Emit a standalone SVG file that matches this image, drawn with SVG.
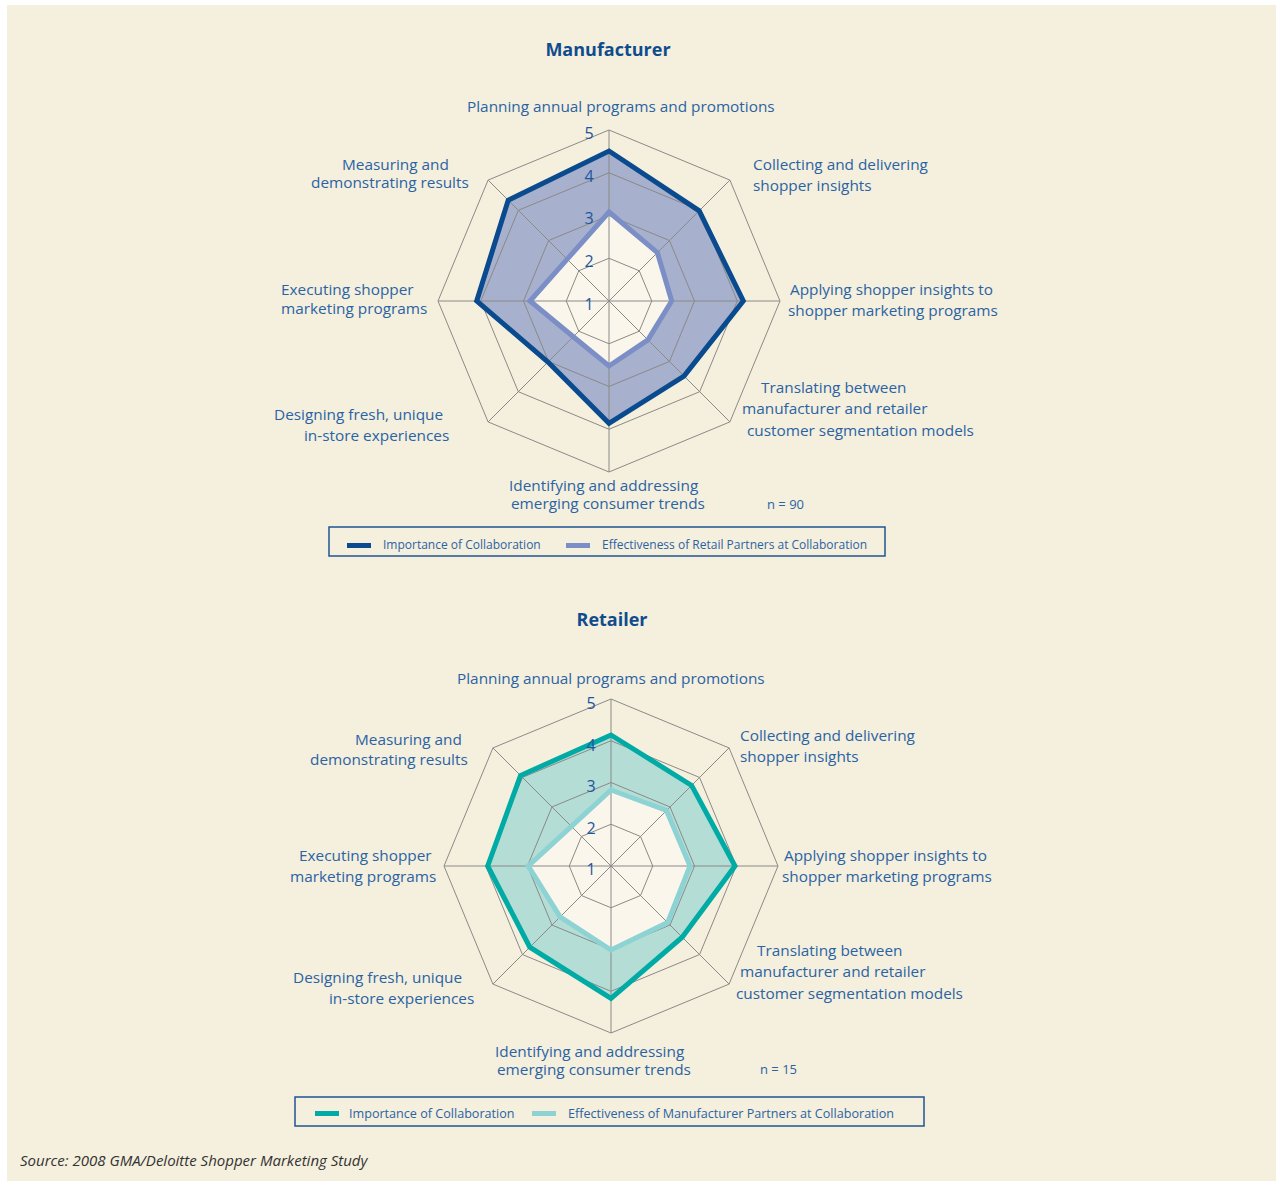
<svg xmlns="http://www.w3.org/2000/svg" width="1276" height="1181" viewBox="0 0 1276 1181">
<style>
.lbl{font-family:"Open Sans","Noto Sans","Liberation Sans",sans-serif;font-size:15.35px;fill:#2a63a4}
.num{font-family:"Open Sans","Noto Sans","Liberation Sans",sans-serif;font-size:16px;fill:#1d57a0;text-anchor:middle}
.ttl{font-family:"Open Sans","Noto Sans","Liberation Sans",sans-serif;font-size:18px;font-weight:bold;fill:#0f4c8e;text-anchor:middle}
.leg{font-family:"Open Sans","Noto Sans","Liberation Sans",sans-serif;font-size:12px;fill:#2a63a4}
.leg2{font-family:"Open Sans","Noto Sans","Liberation Sans",sans-serif;font-size:12.6px;fill:#2a63a4}
.n{font-family:"Open Sans","Noto Sans","Liberation Sans",sans-serif;font-size:13px;fill:#2a63a4}
.grid{fill:none;stroke:#8a8a88;stroke-width:1}
.impM{fill:none;stroke:#0a4a8e;stroke-width:5;stroke-linejoin:miter}
.effM{fill:none;stroke:#7b8ec6;stroke-width:5;stroke-linejoin:miter}
.impR{fill:none;stroke:#00aaa5;stroke-width:5;stroke-linejoin:miter}
.effR{fill:none;stroke:#8ed3d4;stroke-width:5;stroke-linejoin:miter}
.box{fill:none;stroke:#1f5592;stroke-width:1.5}
</style>
<rect x="0" y="0" width="1276" height="1181" fill="#ffffff"/>
<rect x="7" y="5" width="1269" height="1176" fill="#f5efdd"/>

<g id="manufacturer-chart" transform="translate(609,301)">
  <polygon points="0,-150 90.2,-90.2 134.3,0 75,75 0,122.3 -61,61 -132.3,0 -100.8,-100.8" fill="#a7b0cc"/>
  <polygon points="0,-89 48.4,-48.4 62.7,0 38.9,38.9 0,65 -35.7,35.7 -79,0 -41.8,-41.8" fill="#faf6eb"/>
  <g class="grid">
    <polygon points="0,-42.75 30.23,-30.23 42.75,0 30.23,30.23 0,42.75 -30.23,30.23 -42.75,0 -30.23,-30.23"/>
    <polygon points="0,-85.5 60.46,-60.46 85.5,0 60.46,60.46 0,85.5 -60.46,60.46 -85.5,0 -60.46,-60.46"/>
    <polygon points="0,-128.25 90.69,-90.69 128.25,0 90.69,90.69 0,128.25 -90.69,90.69 -128.25,0 -90.69,-90.69"/>
    <polygon points="0,-171 120.92,-120.92 171,0 120.92,120.92 0,171 -120.92,120.92 -171,0 -120.92,-120.92"/>
    <path d="M0,-171V171M-171,0H171M-120.92,-120.92L120.92,120.92M120.92,-120.92L-120.92,120.92"/>
  </g>
  <polygon class="impM" points="0,-150 90.2,-90.2 134.3,0 75,75 0,122.3 -61,61 -132.3,0 -100.8,-100.8"/>
  <polygon class="effM" points="0,-89 48.4,-48.4 62.7,0 38.9,38.9 0,65 -35.7,35.7 -79,0 -41.8,-41.8"/>
  <text class="num" x="-20" y="-162">5</text>
  <text class="num" x="-20" y="-119">4</text>
  <text class="num" x="-20" y="-77">3</text>
  <text class="num" x="-20" y="-34">2</text>
  <text class="num" x="-20" y="9">1</text>
</g>
<g id="manufacturer-labels">
  <text class="ttl" x="608" y="56">Manufacturer</text>
  <text class="lbl" x="467" y="112">Planning annual programs and promotions</text>
  <text class="lbl" x="342" y="170">Measuring and</text>
  <text class="lbl" x="311" y="188">demonstrating results</text>
  <text class="lbl" x="753" y="170">Collecting and delivering</text>
  <text class="lbl" x="753" y="191">shopper insights</text>
  <text class="lbl" x="790" y="295">Applying shopper insights to</text>
  <text class="lbl" x="788" y="316">shopper marketing programs</text>
  <text class="lbl" x="281" y="295">Executing shopper</text>
  <text class="lbl" x="281" y="314">marketing programs</text>
  <text class="lbl" x="761" y="393">Translating between</text>
  <text class="lbl" x="742" y="414">manufacturer and retailer</text>
  <text class="lbl" x="747" y="436">customer segmentation models</text>
  <text class="lbl" x="274" y="420">Designing fresh, unique</text>
  <text class="lbl" x="304" y="441">in-store experiences</text>
  <text class="lbl" x="509" y="491">Identifying and addressing</text>
  <text class="lbl" x="511" y="509">emerging consumer trends</text>
  <text class="n" x="767" y="509">n = 90</text>
</g>
<g id="manufacturer-legend">
  <rect class="box" x="329" y="527" width="556" height="29"/>
  <rect x="347" y="543" width="24" height="5" fill="#0a4a8e"/>
  <text class="leg" x="383" y="549">Importance of Collaboration</text>
  <rect x="566" y="543" width="24" height="5" fill="#7b8ec6"/>
  <text class="leg" x="602" y="549">Effectiveness of Retail Partners at Collaboration</text>
</g>

<g id="retailer-chart" transform="translate(611,866)">
  <polygon points="0,-131 80.6,-80.6 124,0 71.2,71.2 0,132.3 -81.2,81.2 -123.3,0 -90.5,-90.5" fill="#b4ddd5"/>
  <polygon points="0,-76 55.5,-55.5 79,0 56.6,56.6 0,84 -50.9,50.9 -82.7,0 -39.6,-39.6" fill="#faf6eb"/>
  <g class="grid">
    <polygon points="0,-41.75 29.52,-29.52 41.75,0 29.52,29.52 0,41.75 -29.52,29.52 -41.75,0 -29.52,-29.52"/>
    <polygon points="0,-83.5 59.04,-59.04 83.5,0 59.04,59.04 0,83.5 -59.04,59.04 -83.5,0 -59.04,-59.04"/>
    <polygon points="0,-125.25 88.56,-88.56 125.25,0 88.56,88.56 0,125.25 -88.56,88.56 -125.25,0 -88.56,-88.56"/>
    <polygon points="0,-167 118.09,-118.09 167,0 118.09,118.09 0,167 -118.09,118.09 -167,0 -118.09,-118.09"/>
    <path d="M0,-167V167M-167,0H167M-118.09,-118.09L118.09,118.09M118.09,-118.09L-118.09,118.09"/>
  </g>
  <polygon class="impR" points="0,-131 80.6,-80.6 124,0 71.2,71.2 0,132.3 -81.2,81.2 -123.3,0 -90.5,-90.5"/>
  <polygon class="effR" points="0,-76 55.5,-55.5 79,0 56.6,56.6 0,84 -50.9,50.9 -82.7,0 -39.6,-39.6"/>
  <text class="num" x="-20" y="-157">5</text>
  <text class="num" x="-20" y="-115">4</text>
  <text class="num" x="-20" y="-74">3</text>
  <text class="num" x="-20" y="-32">2</text>
  <text class="num" x="-20" y="9">1</text>
</g>
<g id="retailer-labels">
  <text class="ttl" x="612" y="626">Retailer</text>
  <text class="lbl" x="457" y="684">Planning annual programs and promotions</text>
  <text class="lbl" x="355" y="745">Measuring and</text>
  <text class="lbl" x="310" y="765">demonstrating results</text>
  <text class="lbl" x="740" y="741">Collecting and delivering</text>
  <text class="lbl" x="740" y="762">shopper insights</text>
  <text class="lbl" x="784" y="861">Applying shopper insights to</text>
  <text class="lbl" x="782" y="882">shopper marketing programs</text>
  <text class="lbl" x="299" y="861">Executing shopper</text>
  <text class="lbl" x="290" y="882">marketing programs</text>
  <text class="lbl" x="757" y="956">Translating between</text>
  <text class="lbl" x="740" y="977">manufacturer and retailer</text>
  <text class="lbl" x="736" y="999">customer segmentation models</text>
  <text class="lbl" x="293" y="983">Designing fresh, unique</text>
  <text class="lbl" x="329" y="1004">in-store experiences</text>
  <text class="lbl" x="495" y="1057">Identifying and addressing</text>
  <text class="lbl" x="497" y="1075">emerging consumer trends</text>
  <text class="n" x="760" y="1074">n = 15</text>
</g>
<g id="retailer-legend">
  <rect class="box" x="295" y="1097" width="629" height="29"/>
  <rect x="315" y="1111" width="24" height="5" fill="#00aaa5"/>
  <text class="leg2" x="349" y="1118">Importance of Collaboration</text>
  <rect x="532" y="1111" width="24" height="5" fill="#8ed3d4"/>
  <text class="leg2" x="568" y="1118">Effectiveness of Manufacturer Partners at Collaboration</text>
</g>
<text x="20" y="1166" font-family="'Open Sans','Noto Sans','Liberation Sans',sans-serif" font-size="15" font-style="italic" fill="#333333">Source: 2008 GMA/Deloitte Shopper Marketing Study</text>
</svg>
